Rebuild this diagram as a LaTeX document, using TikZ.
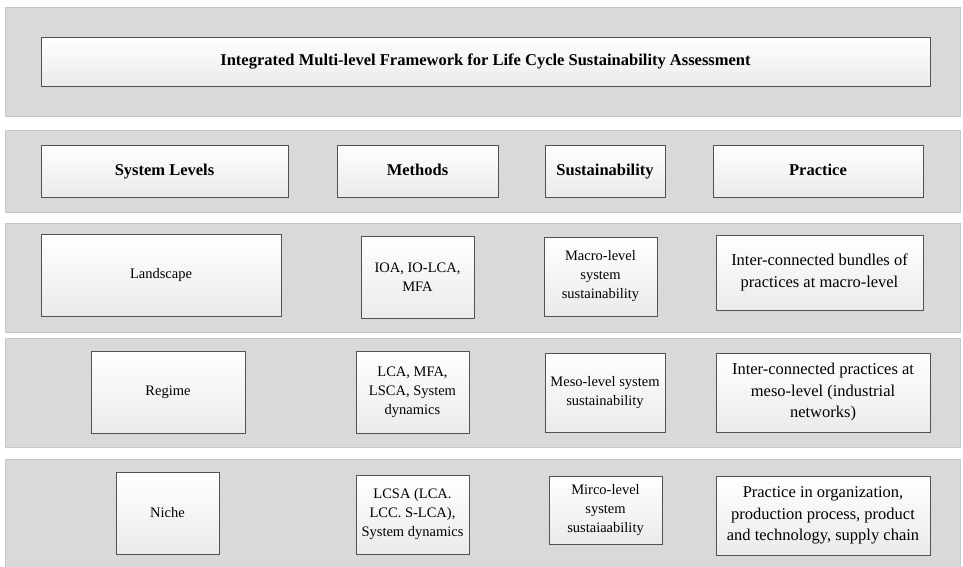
\documentclass[tikz,border=0pt]{standalone}
\usepackage{fontspec}
\setmainfont{Liberation Serif}
\usetikzlibrary{shadows}
\begin{document}
\begin{tikzpicture}[x=1pt,y=-1pt,
  band/.style={draw=black!22, fill=black!15, line width=1pt, inner sep=0pt,
    drop shadow={shadow xshift=0.8pt, shadow yshift=-1.2pt, fill=black!35, opacity=0.7}},
  card/.style={draw=black!68, line width=0.8pt, top color=white, bottom color=black!8,
    inner sep=2pt, align=center, font=\fontsize{14.5}{19}\selectfont,
    drop shadow={shadow xshift=1pt, shadow yshift=-1pt, fill=black!45, opacity=0.5}},
  head/.style={card, font=\fontsize{16.5}{20}\selectfont\bfseries,
    text height=11.5pt, text depth=3.5pt},
  prac/.style={card, font=\fontsize{16.5}{21.5}\selectfont},
  sz/.style 2 args={minimum width=#1, minimum height=#2}
]
\useasboundingbox (0,0) rectangle (963,566);

% grey bands
\node[band, sz={955pt}{109pt}] (band1) at (482.5,61.5) {};
\node[band, sz={955pt}{82pt}]  (band2) at (482.5,171) {};
\node[band, sz={955pt}{109pt}] (band3) at (482.5,277.5) {};
\node[band, sz={955pt}{109pt}] (band4) at (482.5,392.5) {};
\node[band, sz={955pt}{112pt}] (band5) at (482.5,515) {};

% title
\node[head, sz={889pt}{49pt}] (title) at (485.5,61.5)
  {Integrated Multi-level Framework for Life Cycle Sustainability Assessment};

% column headers
\node[head, sz={247pt}{52pt}] (hlevels) at (164.5,171) {System Levels};
\node[head, sz={161pt}{52pt}] (hmethods) at (417.5,171) {Methods};
\node[head, sz={120pt}{52pt}] (hsust) at (605,171) {Sustainability};
\node[head, sz={210pt}{52pt}] (hprac) at (818,171) {Practice};

% landscape row
\node[card, sz={240pt}{82pt}] (landscape) at (161,275) {Landscape};
\node[card, sz={113pt}{82pt}] (mlandscape) at (417.5,277) {IOA, IO-LCA,\\MFA};
\node[card, sz={113pt}{79pt}] (slandscape) at (600.5,276.5) {Macro-level\\system\\sustainability};
\node[prac, sz={207pt}{75pt}] (plandscape) at (819.5,272.5) {Inter-connected bundles of\\practices at macro-level};

% regime row
\node[card, sz={154pt}{82pt}] (regime) at (168,392) {Regime};
\node[card, sz={113pt}{82pt}] (mregime) at (412.5,392) {LCA, MFA,\\LSCA, System\\dynamics};
\node[card, sz={120pt}{79pt}] (sregime) at (605,392.5) {Meso-level system\\sustainability};
\node[prac, sz={214pt}{79pt}] (pregime) at (823,392.5) {Inter-connected practices at\\meso-level (industrial\\networks)};

% niche row
\node[card, sz={103pt}{82pt}] (niche) at (167.5,513) {Niche};
\node[card, sz={113pt}{79pt}] (mniche) at (412.5,514.5) {LCSA (LCA.\\LCC. S-LCA),\\System dynamics};
\node[card, sz={113pt}{68pt}] (sniche) at (605.5,510) {Mirco-level\\system\\sustaiaability};
\node[prac, sz={214pt}{79pt}] (pniche) at (823,515.5) {Practice in organization,\\production process, product\\and technology, supply chain};
\end{tikzpicture}
\end{document}
